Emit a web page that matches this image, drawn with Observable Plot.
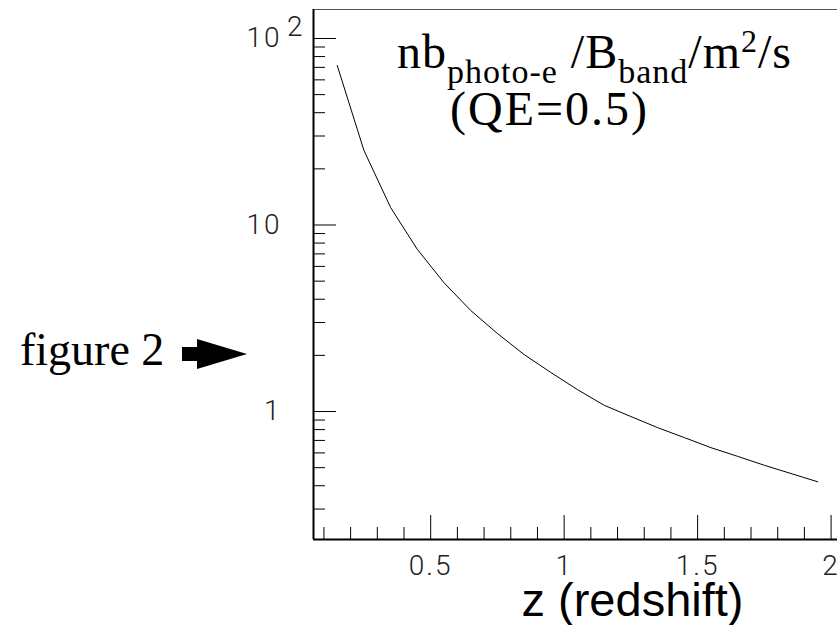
<!DOCTYPE html>
<html>
<head>
<meta charset="utf-8">
<script src="https://cdn.jsdelivr.net/npm/d3@7"></script>
<script src="https://cdn.jsdelivr.net/npm/@observablehq/plot@0.6"></script>
<style>
  html, body { margin: 0; padding: 0; background: #fff; }
  #wrap { position: relative; width: 837px; height: 625px; overflow: hidden; }
  #wrap svg.plot { position: absolute; left: 0; top: 0; }
  g[aria-label="x-axis tick label"] text, g[aria-label="y-axis tick label"] text, .sup2 text { letter-spacing: 2px; }
  .title { position: absolute; white-space: nowrap; font-family: "Liberation Serif", "Times New Roman", serif; color: #000; }
  .title .sub { position: relative; top: 15px; font-size: 34px; line-height: 34px; }
  .title .sup { position: relative; top: -16px; font-size: 32px; line-height: 32px; }
</style>
</head>
<body>
<div id="wrap">
  <div class="title" id="t1" style="left:397px; top:28px; font-size:48px; line-height:48px; letter-spacing:1px;">nb<span class="sub">photo-e</span> /B<span class="sub">band</span>/m<span class="sup">2</span>/s</div>
  <div class="title" id="t2" style="left:450px; top:88px; font-size:48px; line-height:42px; letter-spacing:2px;">(QE=0.5)</div>
  <div class="title" id="fig" style="left:20px; top:327px; font-size:46px; line-height:46px;">figure 2</div>
  <svg id="arrow" width="837" height="625" style="position:absolute;left:0;top:0;pointer-events:none">
    <rect x="182" y="347" width="18" height="14" fill="#000"></rect>
    <polygon points="197,339 247,354 197,369" fill="#000"></polygon>
  </svg>
</div>
<script>
// ---- data ----
const redshift = [0.15, 0.25, 0.35, 0.45, 0.55, 0.65, 0.75, 0.85, 0.95, 1.05, 1.15, 1.25, 1.35, 1.45, 1.55, 1.65, 1.75, 1.85, 1.95];
const nbPhotoE = [71.6, 25.1, 12.4, 7.4, 4.9, 3.48, 2.62, 2.02, 1.62, 1.31, 1.08, 0.94, 0.82, 0.725, 0.64, 0.575, 0.515, 0.465, 0.42];

const xDomain = [0.061, 2.024];
const yDomain = [0.206, 143];
const xMajorTicks = [0.5, 1, 1.5, 2];
const xMinorTicks = [0.1, 0.2, 0.3, 0.4, 0.6, 0.7, 0.8, 0.9, 1.1, 1.2, 1.3, 1.4, 1.6, 1.7, 1.8, 1.9];
const xTickLabels = ["0.5", "1", "1.5", "2"];
const yMajorTicks = [1, 10, 100];
const yMinorTicks = [0.3, 0.4, 0.5, 0.6, 0.7, 0.8, 0.9, 2, 3, 4, 5, 6, 7, 8, 9, 20, 30, 40, 50, 60, 70, 80, 90];
const yTickLabels = ["1", "10", "10"];
const yTickExponents = ["", "", "2"];
const xTitle = "z (redshift)";

const data = redshift.map((z, i) => ({z, v: nbPhotoE[i]}));
const tickFont = "Roboto, 'DejaVu Sans', sans-serif";

const chart = Plot.plot({
  width: 837,
  height: 625,
  marginLeft: 313,
  marginRight: 0,
  marginTop: 9,
  marginBottom: 86,
  style: {background: "transparent", color: "#000", overflow: "visible"},
  x: {domain: xDomain, label: null},
  y: {type: "log", domain: yDomain, label: null},
  marks: [
    Plot.ruleY([yDomain[1]], {stroke: "#555", strokeWidth: 1}),
    Plot.line(data, {x: "z", y: "v", stroke: "#000", strokeWidth: 1}),
    // x ticks (inside, pointing up)
    Plot.axisX(xMajorTicks, {anchor: "bottom", tickSize: -24, fill: "none", stroke: "#000", strokeWidth: 1}),
    Plot.axisX(xMinorTicks, {anchor: "bottom", tickSize: -12, fill: "none", stroke: "#000", strokeWidth: 1}),
    Plot.axisX(xMajorTicks, {anchor: "bottom", tickSize: 0, tickPadding: 16, stroke: "none", fill: "#222",
      fontSize: 28, fontFamily: tickFont, fontWeight: 300,
      tickFormat: (d) => xTickLabels[xMajorTicks.indexOf(d)]}),
    // y ticks (inside, pointing right)
    Plot.axisY(yMajorTicks, {anchor: "left", tickSize: -23, fill: "none", stroke: "#000", strokeWidth: 1}),
    Plot.axisY(yMinorTicks, {anchor: "left", tickSize: -12, fill: "none", stroke: "#000", strokeWidth: 1}),
    Plot.axisY(yMajorTicks, {anchor: "left", tickSize: 0, tickPadding: 32, stroke: "none", fill: "#222",
      fontSize: 28, fontFamily: tickFont, fontWeight: 300,
      tickFormat: (d) => yTickLabels[yMajorTicks.indexOf(d)]}),
    Plot.text(yMajorTicks.filter((d, i) => yTickExponents[i]), {
      y: (d) => d, text: (d) => yTickExponents[yMajorTicks.indexOf(d)],
      frameAnchor: "left", dx: -9, dy: -11, textAnchor: "end",
      fontSize: 28, fontFamily: tickFont, fontWeight: 300, fill: "#222", className: "sup2"}),
    // frame lines
    Plot.ruleX([xDomain[0]], {stroke: "#000", strokeWidth: 2}),
    Plot.ruleY([yDomain[0]], {stroke: "#000", strokeWidth: 2}),
    // axis title
    Plot.text([xTitle], {frameAnchor: "bottom", lineAnchor: "bottom", dx: 57, dy: 76,
      text: (d) => d, fontSize: 47, fontFamily: "'Liberation Sans', Arial, sans-serif", fill: "#000"})
  ]
});
chart.classList.add("plot");
document.getElementById("wrap").insertBefore(chart, document.getElementById("wrap").firstChild);
</script>
</body>
</html>
